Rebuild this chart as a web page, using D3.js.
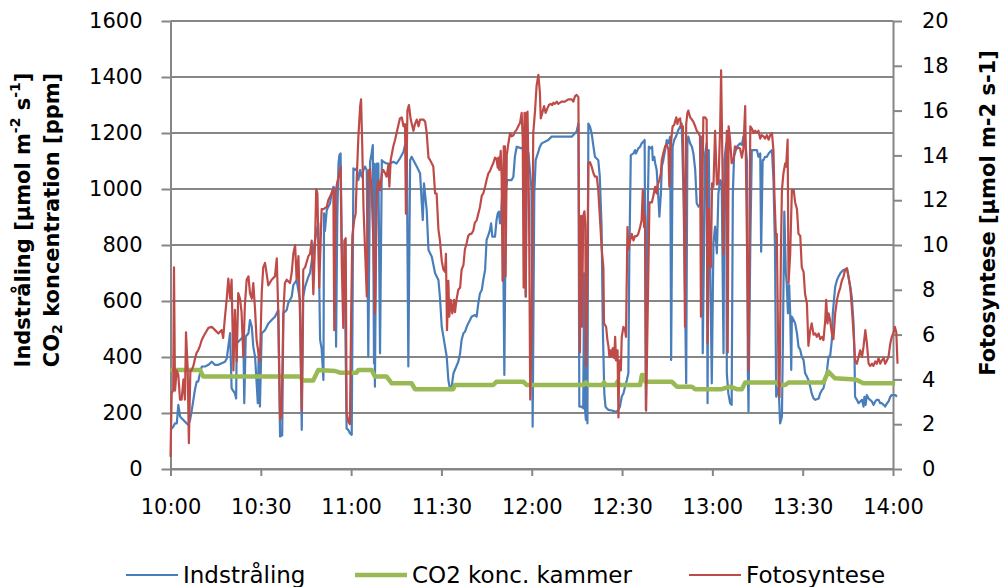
<!DOCTYPE html>
<html>
<head>
<meta charset="utf-8">
<script src="https://cdnjs.cloudflare.com/ajax/libs/d3/7.8.5/d3.min.js"></script>
<style>
  body { margin: 0; background: #ffffff; }
  svg { font-family: "DejaVu Sans", Verdana, sans-serif; }
</style>
</head>
<body>
<div id="vis"></div>
<script>
// series data: [minutes after 10:00, value]
const SERIES_NAMES = ['Indstråling', 'CO2 konc. kammer', 'Fotosyntese'];
const X_TICKS = ['10:00', '10:30', '11:00', '11:30', '12:00', '12:30', '13:00', '13:30', '14:00'];
const LEFT_TICKS = [0, 200, 400, 600, 800, 1000, 1200, 1400, 1600];
const RIGHT_TICKS = [0, 2, 4, 6, 8, 10, 12, 14, 16, 18, 20];

// Indstråling (left axis)
const INDSTRALING = [
  [0,140],[0.9,151],[1.5,163],[2.1,163],[2.6,229],[3.2,187],[3.7,181],[4.3,175],[4.8,169],[5.4,163],[5.9,157],[6.5,175],[7.0,205],[7.6,247],[8.1,282],[8.7,312],[9.2,312],[9.8,342],[10.4,366],[11.5,366],[12.6,372],[13.7,383],[14.8,372],[15.9,372],[17,378],[18.1,383],[18.7,395],[19.2,437],[19.8,485],[20.3,288],[21.4,270],[21.8,252],[22,449],[23.1,461],[24.2,473],[24.5,235],[25,473],[25.9,485],[26.4,532],[27,508],[27.5,437],[28.1,400],[29,235],[29.3,420],[29.7,223],[30.3,485],[31.4,496],[32.5,520],[33.6,532],[34.7,544],[35.8,568],[36.4,116],[37.1,120],[37.5,556],[38.6,568],[39.1,592],[40.25,615],[40.8,657],[41.9,675],[43,604],[43.6,140],[44.1,615],[44.7,651],[45.8,687],
  [46.35,700],[47.45,782],[48.6,853],[49.1,877],[49.7,461],[50.2,430],[50.8,318],[51,913],[51.3,850],[51.9,925],[53,949],[53.5,984],[54.1,1008],[54.7,1000],[55,437],[55.4,900],[55.8,1091],[56.1,1121],[56.5,1127],[56.9,794],[57.4,675],[58,580],[58.5,145],[59.1,139],[59.6,128],[60.2,122],[60.5,600],[60.75,1074],[61.3,1068],[61.85,1074],[62.4,1032],[63,1068],[63.5,1044],[64.1,1068],[64.6,1080],[65.2,1068],[65.7,401],[66.3,1097],[66.8,1127],[67.2,1157],[67.6,377],[67.75,1090],[67.9,294],[68.5,1091],[69.05,1091],[69.6,413],[70.2,1103],[70.7,1097],[71.8,1091],[72.9,1091],[74,1097],[75.1,1091],[76.2,1109],[77.4,1133],[77.9,1157],[78.5,1127],[79,366],[79.6,1103],[80.1,1115],[80.7,1103],[81.8,1080],[82.9,1056],[83.8,889],[84.2,1020],[85.1,925],[85.7,782],[86.8,758],[87.9,699],[89,675],[89.5,615],[90.1,508],[90.65,473],[91.2,437],[91.75,401],[92.3,318],[92.9,282],[93.4,294],[94,342],
  [95.6,383],[96.2,413],[96.7,461],[97.3,485],[97.8,490],[98.4,508],[98.9,520],[99.5,532],[100,544],[101.1,550],[101.7,544],[102.25,592],[102.8,627],[103.4,639],[103.9,675],[104.5,711],[105,818],[105.6,836],[106.1,853],[106.5,877],[106.9,830],[107.8,830],[108.3,889],[108.7,913],[109.1,919],[109.45,877],[109.8,907],[110.2,984],[110.6,687],[110.9,336],[111.4,984],[111.8,1032],[113.3,1032],[113.9,1044],[114.4,1115],[115,1151],[116.65,1145],[117.75,1151],[118,615],[118.4,1151],[118.9,1127],[119.9,1000],[120.3,151],[120.85,984],[121.3,1103],[122.2,1133],[122.7,1151],[123.3,1163],[125.5,1175],[126.6,1187],[133.3,1187],[134.9,1205],[135.5,1234],[135.8,223],[136.6,223],[137.1,217],[137.4,699],[137.7,211],[138,175],[138.2,389],[138.5,163],[138.8,1234],[139.35,1222],[139.9,1199],[140.5,1151],[141,1115],[142.1,1103],[142.6,1044],[143.2,866],
  [143.6,508],[144.1,270],[144.5,223],[144.9,217],[145.5,211],[146.6,209],[147.7,205],[148.2,205],[148.8,211],[149.3,223],[149.9,259],[150.45,270],[151,294],[151.6,318],[152.1,342],[152.4,747],[152.9,1121],[153.8,1127],[154.3,1139],[154.6,1127],[155.4,1145],[156,1151],[156.5,1163],[157.1,1169],[157.5,1175],[157.9,211],[158.3,800],[158.9,1151],[159.5,1145],[160,1151],[160.2,1103],[160.7,1115],[161,1092],[161.5,1068],[162.1,961],[162.4,901],[162.9,984],[163.2,1080],[163.7,1103],[164.3,1139],[164.85,1175],[165.4,1163],[166,1187],[166.3,389],[166.8,1151],[167.3,1175],[167.9,1187],[168.7,1211],[169.3,1222],[169.8,1234],[170.4,985],[170.9,627],[171.3,306],[171.7,1163],[172,1187],[172.6,1163],[173.2,1151],[173.7,1127],[174.3,1068],[174.8,949],[175.4,937],[175.9,943],[176.5,1187],[176.8,413],[177.6,1127],[178.1,1163],[178.4,235],[178.8,1139],[179.2,806],[179.8,306],[180.35,806],[180.9,866],[181.5,770],[182,984],[182.6,1032],[183.1,1020],[183.7,413],[184,1103],[184.6,1163],[184.8,342],[185.3,270],[185.9,235],[186.4,229],[186.8,984],[187.2,1115],[188.1,1151],[189.2,1163],[189.8,1157],[190.3,1187],[190.9,1175],
  [191.5,1100],[191.8,342],[192,205],[192.6,800],[193.1,1139],[194.8,1139],[195.3,1115],[195.9,1127],[196.2,776],[196.7,1103],[197,1103],[197.5,1115],[198.1,1115],[198.7,1127],[199.2,1133],[199.8,1139],[200.3,1030],[200.8,794],[201.2,258],[202,294],[202.5,163],[203.1,187],[203.4,437],[203.9,919],[204.4,700],[204.7,663],[205.1,556],[205.5,657],[205.85,556],[206.2,354],[206.4,544],[207,532],[207.5,520],[208.1,485],[208.6,437],[209.2,425],[209.7,401],[210.3,389],[210.8,342],[211.4,330],[211.9,318],[212.5,294],[213,270],[213.6,252],[214.2,247],[215.3,252],[215.8,270],[216.4,282],[216.9,288],[217.5,318],[218.1,354],[218.6,401],[219.1,401],[219.7,461],[220,556],[220.4,604],[220.8,651],[221.4,675],[221.9,687],[222.5,699],[223,705],[223.6,711],[224.1,711],[224.7,717],[225.2,687],[225.8,651],[226.3,615],[226.9,520],[227.2,413],[227.4,258],[228,247],[228.55,235],[229.1,241],[229.7,247],[230.2,223],[230.5,258],[230.9,229],[231.3,264],[231.9,252],[232.4,247],[233,241],[233.5,229],[234.1,241],[234.6,247],[235.2,247],[235.75,235],[236.3,235],[236.9,229],[237.4,223],[238,235],[238.5,241],[239.1,258],[239.6,264],[240.2,264],[240.8,264],[241.3,258]
];

// CO2 konc. kammer (left axis)
const CO2 = [
  [0,354],[9.8,354],[10.9,330],[43,330],[44.1,316],[47.4,316],[49.1,354],[54.7,350],[56.3,344],[61.8,344],[62.4,354],[66.8,354],[67.9,330],[71.8,330],[73.5,306],[80.1,306],[81.2,285],[93.9,285],[94.5,300],[107.2,300],[108.3,312],[117.2,312],[118.3,300],[137.1,300],[138,309],[138.8,300],[143.5,300],[144,309],[144.5,300],[148,300],[148.5,312],[149,300],[156,300],[156.6,336],[157.1,336],[157.7,312],[166.5,312],[168.2,294],[173.2,294],[174.3,285],[183.1,285],[185.9,294],[188.1,285],[189.8,285],[190.9,309],[201.4,309],[202.5,300],[204.2,300],[205.3,309],[216.9,309],[218.5,348],[220.7,324],[227.4,320],[229.1,312],[230.2,306],[240.7,306]
];

// Fotosyntese (right axis)
const FOTOSYNTESE = [
  [0,0.55],[0.4,3.4],[0.9,3.5],[1.16,9.0],[1.5,3.5],[2.05,4.4],[2.6,4.2],[3.15,3.1],[3.7,3.1],[4.3,4.0],[4.8,3.1],[5.15,6.1],[5.7,4.5],[6.1,1.15],[6.6,4.4],[7.0,4.4],[7.6,4.6],[8.1,4.9],[8.7,5.2],[9.2,5.3],[9.8,5.5],[10.35,5.75],[10.9,5.9],[11.5,6.05],[12.6,6.3],[13.7,6.35],[14.8,6.2],[15.9,6.05],[17,6.2],[17.5,5.85],[18.1,6.8],[18.65,7.55],[19.2,8.5],[19.8,7.6],[20.3,8.45],[20.9,4.4],[21.4,7.1],[22,4.8],[22.5,7.85],[23.1,7.6],[23.6,7.0],[24.2,5.0],[24.7,7.3],[25.3,8.45],[25.9,8.6],[26.4,7.85],[27,7.6],[27.5,8.3],[28.1,7.1],[28.6,5.75],[29.2,5.2],[29.7,4.8],[30.3,7.85],[30.8,9.0],[31.4,9.2],[31.9,8.75],[32.5,8.2],[33.6,8.45],[34.7,8.6],[35.3,9.4],[35.8,7.0],[36.4,2.2],[36.9,2.4],[37.5,7.0],[38,8.3],[38.6,8.45],[39.7,8.3],[40.25,8.75],[40.8,9.6],[41.4,10.0],[41.9,8.45],[42.5,9.5],[43,7.0],[43.6,2.6],[44.1,8.9],[44.7,9.0],[45.8,9.5],
  [46.35,9.6],[46.9,10.2],[47.45,7.8],[48,10.0],[48.4,12.5],[48.8,12.3],[49.4,8.1],[50.2,11.6],[50.8,11.6],[51.9,11.7],[52.4,12.0],[53.5,12.3],[54.1,12.5],[54.4,6.2],[54.9,12.4],[55.4,12.8],[56.1,13.2],[56.5,13.5],[56.9,9.1],[57.4,6.3],[57.75,10.2],[58.2,10.3],[58.5,2.5],[59.1,2.1],[59.6,2.0],[60,6.8],[60.4,10.4],[61,11.1],[61.5,11.4],[61.85,12.9],[62.4,14.8],[63,16.2],[63.3,16.5],[63.7,14.4],[64.1,11.7],[64.6,9.9],[65.2,7.7],[65.7,13.3],[66.3,13.4],[66.8,12.45],[67.4,10.1],[67.9,6.95],[68.5,12.3],[69.05,12.9],[69.6,12.45],[70.2,13.2],[70.7,13.35],[71.3,13.2],[71.8,13.05],[72.4,13.6],[72.7,12.6],[73.15,13.8],[74,14.4],[74.6,14.7],[75.1,15.0],[76.2,15.65],[76.8,15.7],[77.4,15.3],[77.9,15.4],[78.2,11.4],[78.7,16.0],[79.2,16.25],[79.8,15.6],[80.7,15.1],[81.2,15.4],[81.8,15.6],[82.4,15.3],[82.9,15.6],[84,15.6],[84.6,15.5],[85.1,15.0],[85.7,13.9],[86.2,13.8],[87.3,13.5],[87.9,12.3],[88.4,12.3],[89,10.7],[89.5,10.2],[90.1,9.3],[90.65,8.9],[91.2,8.8],[91.5,9.6],[91.85,6.2],[92.3,8.4],[92.6,6.8],[93.1,7.55],[93.6,6.95],[94.2,7.55],
  [94.5,7.0],[95,7.55],[95.6,8.0],[96.2,8.1],[96.7,8.9],[97.3,9.1],[97.8,9.8],[98.4,10.1],[98.9,10.4],[99.5,10.5],[100,10.5],[100.6,10.65],[101.1,11.0],[101.7,11.1],[102.25,11.4],[102.8,11.7],[103.4,12.2],[103.9,12.3],[104.5,12.6],[105,12.9],[105.6,13.2],[106.1,13.3],[106.7,13.5],[107.2,13.65],[107.8,13.9],[108.3,13.85],[108.7,13.45],[108.9,13.9],[109.2,13.35],[109.7,14.2],[110,13.05],[110.3,8.4],[110.7,14.4],[111.1,14.4],[111.3,8.6],[111.7,14.0],[112.2,14.5],[112.8,15.0],[113.3,14.85],[113.9,14.9],[114.4,15.05],[115,15.15],[115.5,15.3],[116.1,15.45],[116.65,15.9],[117,14.75],[117.3,8.1],[117.6,15.9],[118,7.7],[118.3,15.9],[118.6,15.95],[119.1,11.5],[119.5,3.1],[120,6.5],[120.5,15.0],[121.1,16.0],[121.6,17.1],[122.2,17.6],[122.7,16.8],[123,15.65],[123.5,15.9],[124.1,16.2],[124.6,15.9],[125.2,16.1],[125.7,16.25],[126.3,16.3],[126.8,16.25],[127.2,16.35],[127.7,16.3],[128.3,16.4],[128.8,16.3],[129.9,16.4],[131,16.4],[132.15,16.5],[133.3,16.5],[133.8,16.4],[134.4,16.65],[134.9,16.7],[135.5,16.6],[135.8,7.8],[136,5.2],[136.4,11.3],[136.7,6.35],[137.1,11.3],[137.5,11.5],[137.8,10.9],[138,4.6],[138.4,7.8],[138.8,13.65],[139.35,13.7],[139.9,13.5],[140.5,13.2],[141,13.05],[141.6,13.05],[142.1,12.45],[142.7,11.1],
  [143.25,9.8],[143.8,9.0],[144,6.5],[144.7,6.35],[145.1,5.8],[145.5,5.45],[145.8,5.0],[146.2,5.3],[146.6,5.0],[146.9,5.4],[147.4,4.95],[147.7,5.9],[148,4.85],[148.5,5.3],[148.8,2.3],[149.1,4.85],[149.6,4.4],[149.9,5.9],[150.45,6.35],[151,6.2],[151.3,5.9],[151.8,10.8],[152.1,9.8],[152.7,10.2],[153.2,10.5],[153.8,10.2],[154.3,10.4],[154.9,10.4],[155.4,10.5],[156,10.8],[156.5,11.1],[156.9,12.45],[157.3,10.8],[157.65,11.3],[158,2.6],[158.4,6.0],[159.1,11.9],[159.9,11.9],[160.4,12.2],[161,12.6],[161.5,12.3],[161.85,12.7],[162.4,12.9],[162.9,13.2],[163.2,13.8],[163.7,14.1],[164.3,14.4],[164.85,14.5],[165.4,14.25],[165.7,12.6],[166.2,14.5],[166.8,15.3],[167.3,15.35],[167.6,15.5],[168,15.7],[168.4,15.4],[168.7,15.6],[169.3,15.65],[169.6,15.25],[170.2,15.3],[170.6,11.6],[170.9,6.35],[171.3,15.4],[171.7,15.9],[172,16.0],[172.6,15.7],[173.2,15.6],[173.7,15.5],[174.3,15.3],[174.8,15.1],[175.4,15.0],[175.9,14.85],[176.2,6.8],[176.6,11.4],[177,15.7],[177.6,15.7],[178.1,15.6],[178.4,5.6],[178.8,11.6],[179.2,9.6],[179.5,9.0],[179.9,12.75],[180.35,12.6],[180.9,15.1],[181.5,12.7],[182,12.75],[182.6,15.3],[182.9,17.8],[183.4,13.1],[183.7,9.6],[184,12.6],[184.4,12.75],[184.8,15.1],[185.1,5.2],[185.4,15.3],[185.9,14.7],[186.4,13.65],[187,13.8],[187.5,14.4],[188.1,14.3],[188.7,14.35],[189.2,14.3],[189.8,13.9],[190.3,14.3],[190.9,16.2],
  [191.5,10],[192,4.4],[192.6,15.3],[193.1,15.2],[193.7,15.0],[194.2,15.1],[194.8,15.0],[195.3,15.1],[195.9,14.75],[196.4,14.9],[197,14.85],[197.5,14.75],[198.1,14.9],[198.7,14.7],[199.2,14.9],[199.8,15.0],[200.3,14.2],[200.6,12.3],[201.1,10.4],[201.4,10.5],[202,4.0],[202.3,3.2],[202.75,9.5],[203.1,12.45],[203.6,13.2],[204.2,13.65],[204.5,13.5],[205,14.7],[205.3,8.3],[205.85,9.6],[206.4,12.45],[207,12.45],[207.5,11.9],[208.1,11.6],[208.6,10.5],[209.2,10.4],[209.7,9.0],[210.3,8.8],[210.8,7.8],[211.4,7.4],[211.9,5.5],[212.5,6.2],[213,6.5],[213.6,6.0],[214.2,6.05],[214.7,5.9],[215.3,6.05],[215.8,5.8],[216.4,5.9],[216.9,5.75],[217.5,6.65],[217.8,7.55],[218.25,6.5],[218.6,6.95],[219.1,6.65],[219.7,6.05],[220.2,5.8],[220.8,6.95],[221.4,7.55],[221.9,7.85],[222.5,8.1],[223,8.4],[223.6,8.6],[224.1,8.9],[224.7,8.95],[225.2,8.6],[225.8,8.1],[226.3,7.25],[226.9,6.05],[227.4,4.85],[228,4.7],[228.55,5.0],[229.1,5.3],[229.7,5.0],[230.2,5.45],[230.8,6.2],[231.3,5.65],[231.9,4.7],[232.4,4.6],[233,4.7],[233.5,4.6],[234.1,4.8],[234.6,4.7],[235.2,4.95],[235.75,4.7],[236.3,4.85],[236.9,4.95],[237.4,4.7],[238,4.85],[238.5,5.0],[239.1,5.6],[239.6,5.9],[240.2,6.1],[240.6,6.35],[241.1,6.1],[241.5,4.7]
];

// setting up the basics
const FRAME_WIDTH = 1002;
const FRAME_HEIGHT = 587;
const PLOT = {left: 170.5, right: 893, top: 21, bottom: 469};
const GRID_COLOR = '#868686';
const COLORS = ['#4a7ebb', '#98b954', '#be4b48'];
const TICK_FONT = '21px';
const LEGEND_FONT = '23px';
const TITLE_FONT = '21px';

const FRAME = d3.select('#vis')
                .append('svg')
                    .attr('width', FRAME_WIDTH)
                    .attr('height', FRAME_HEIGHT);

const START = new Date(2000, 0, 1, 10, 0);
const toDate = (m) => new Date(START.getTime() + m * 60000);
const parseTick = (s) => {
    const parts = s.split(':');
    return new Date(2000, 0, 1, +parts[0], +parts[1]);
};

// scales
const X_SCALE = d3.scaleTime()
    .domain([parseTick(X_TICKS[0]), parseTick(X_TICKS[X_TICKS.length - 1])])
    .range([PLOT.left, PLOT.right]);

const Y_LEFT = d3.scaleLinear()
    .domain([0, 1600])
    .range([PLOT.bottom, PLOT.top]);

const Y_RIGHT = d3.scaleLinear()
    .domain([0, 20])
    .range([PLOT.bottom, PLOT.top]);

// gridlines
FRAME.append('g')
    .selectAll('line')
    .data(LEFT_TICKS)
    .enter()
    .append('line')
        .attr('x1', PLOT.left)
        .attr('x2', PLOT.right)
        .attr('y1', d => Y_LEFT(d))
        .attr('y2', d => Y_LEFT(d))
        .attr('stroke', GRID_COLOR)
        .attr('stroke-width', 2);

// left axis
const leftAxis = FRAME.append('g')
    .attr('transform', 'translate(' + PLOT.left + ',0)')
    .call(d3.axisLeft(Y_LEFT).tickValues(LEFT_TICKS).tickFormat(d3.format('d'))
        .tickSize(9).tickSizeOuter(0).tickPadding(19));

// right axis
const rightAxis = FRAME.append('g')
    .attr('transform', 'translate(' + PLOT.right + ',0)')
    .call(d3.axisRight(Y_RIGHT).tickValues(RIGHT_TICKS).tickFormat(d3.format('d'))
        .tickSize(9).tickSizeOuter(0).tickPadding(20));

// x axis
const xAxis = FRAME.append('g')
    .attr('transform', 'translate(0,' + PLOT.bottom + ')')
    .call(d3.axisBottom(X_SCALE)
        .tickValues(X_TICKS.map(parseTick))
        .tickFormat(d3.timeFormat('%H:%M'))
        .tickSize(7).tickSizeOuter(0).tickPadding(23));

[leftAxis, rightAxis, xAxis].forEach((ax) => {
    ax.selectAll('.domain').attr('stroke', GRID_COLOR).attr('stroke-width', 2);
    ax.selectAll('.tick line').attr('stroke', GRID_COLOR).attr('stroke-width', 2);
    ax.selectAll('.tick text')
        .attr('fill', '#000')
        .attr('font-family', '"DejaVu Sans", Verdana, sans-serif')
        .attr('font-size', TICK_FONT);
});

// lines
const leftLine = d3.line()
    .x(d => X_SCALE(toDate(d[0])))
    .y(d => Y_LEFT(d[1]));

const rightLine = d3.line()
    .x(d => X_SCALE(toDate(d[0])))
    .y(d => Y_RIGHT(d[1]));

FRAME.append('path')
    .datum(INDSTRALING)
    .attr('d', leftLine)
    .attr('fill', 'none')
    .attr('stroke', COLORS[0])
    .attr('stroke-width', 2.2)
    .attr('stroke-linejoin', 'round');

FRAME.append('path')
    .datum(CO2)
    .attr('d', leftLine)
    .attr('fill', 'none')
    .attr('stroke', COLORS[1])
    .attr('stroke-width', 4.5)
    .attr('stroke-linejoin', 'round');

FRAME.append('path')
    .datum(FOTOSYNTESE)
    .attr('d', rightLine)
    .attr('fill', 'none')
    .attr('stroke', COLORS[2])
    .attr('stroke-width', 2.2)
    .attr('stroke-linejoin', 'round');

// axis titles
const TITLE_MID = 220;

const leftTitle = FRAME.append('text')
    .attr('transform', 'translate(23,' + TITLE_MID + ') rotate(-90)')
    .attr('text-anchor', 'middle')
    .attr('dominant-baseline', 'central')
    .attr('font-weight', 'bold')
    .attr('font-size', TITLE_FONT);
leftTitle.append('tspan').text('Indstråling [µmol m');
leftTitle.append('tspan').attr('font-size', '14px').attr('dy', -8).text('-2');
leftTitle.append('tspan').attr('dy', 8).text(' s');
leftTitle.append('tspan').attr('font-size', '14px').attr('dy', -8).text('-1');
leftTitle.append('tspan').attr('dy', 8).text(']');

const leftTitle2 = FRAME.append('text')
    .attr('transform', 'translate(52,' + TITLE_MID + ') rotate(-90)')
    .attr('text-anchor', 'middle')
    .attr('dominant-baseline', 'central')
    .attr('font-weight', 'bold')
    .attr('font-size', TITLE_FONT);
leftTitle2.append('tspan').text('CO');
leftTitle2.append('tspan').attr('font-size', '14px').attr('dy', 5).text('2');
leftTitle2.append('tspan').attr('dy', -5).text(' koncentration [ppm]');

FRAME.append('text')
    .attr('transform', 'translate(988,213) rotate(-90)')
    .attr('text-anchor', 'middle')
    .attr('dominant-baseline', 'central')
    .attr('font-weight', 'bold')
    .attr('font-size', TITLE_FONT)
    .text('Fotosyntese [µmol m-2 s-1]');

// legend
const LEGEND_X = [126, 355, 689];
const legend = FRAME.append('g');
SERIES_NAMES.forEach((name, i) => {
    legend.append('line')
        .attr('x1', LEGEND_X[i])
        .attr('x2', LEGEND_X[i] + 52)
        .attr('y1', 575)
        .attr('y2', 575)
        .attr('stroke', COLORS[i])
        .attr('stroke-width', i === 1 ? 4.5 : 2.2);
    legend.append('text')
        .attr('x', LEGEND_X[i] + 57)
        .attr('y', 575)
        .attr('dominant-baseline', 'central')
        .attr('font-size', LEGEND_FONT)
        .text(name);
});
</script>
</body>
</html>
